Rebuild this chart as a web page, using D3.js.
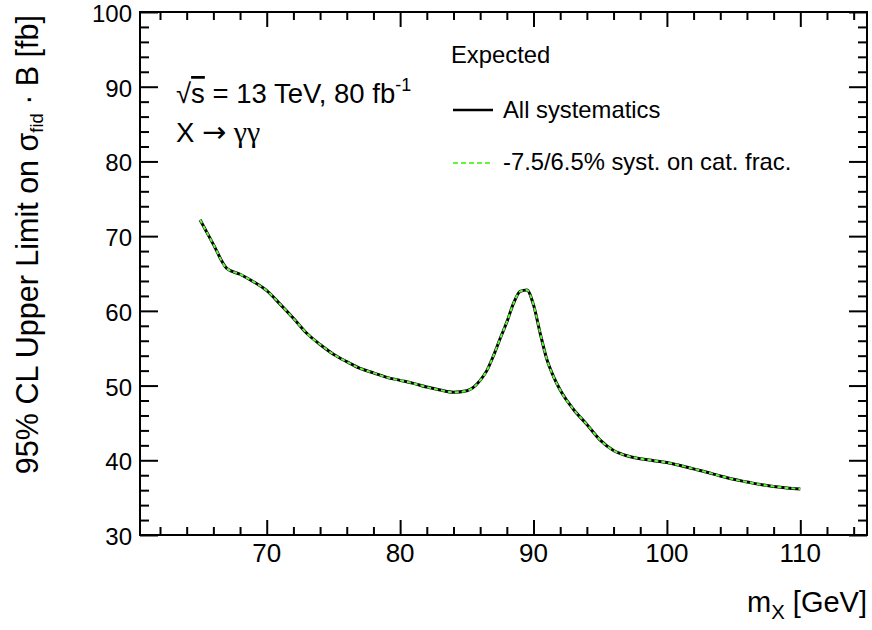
<!DOCTYPE html>
<html>
<head>
<meta charset="utf-8">
<script src="https://cdn.jsdelivr.net/npm/d3@7/dist/d3.min.js"></script>
<style>
  html, body { margin: 0; padding: 0; background: #fff; }
  svg { display: block; font-family: "Liberation Sans", Arial, Helvetica, sans-serif; }
</style>
</head>
<body>
<svg id="chart" width="872" height="630"></svg>
<script>
// ---- data ----
const massPoints = [65, 66, 67, 68, 69, 70, 71, 72, 73, 74, 75, 76, 77, 78, 79, 80, 81, 82, 83, 84, 85,
  86, 86.5, 87, 87.5, 88, 88.5, 89, 89.5, 90, 90.5, 91, 91.5, 92, 93, 94, 95, 96, 97, 98, 99, 100,
  101, 102, 103, 104, 105, 106, 107, 108, 109, 110];
const limitAllSyst = [72.2, 68.9, 65.7, 64.9, 63.9, 62.7, 60.9, 59.0, 57.0, 55.5, 54.2, 53.2, 52.3, 51.7, 51.1, 50.7, 50.3, 49.8, 49.4, 49.1, 49.3,
  50.7, 52.0, 54.0, 56.3, 58.5, 61.0, 62.6, 62.8, 60.8, 57.0, 53.5, 51.2, 49.4, 46.8, 44.8, 42.7, 41.3, 40.6, 40.2, 39.95, 39.7,
  39.3, 38.85, 38.4, 37.9, 37.45, 37.1, 36.75, 36.5, 36.3, 36.16];
const limitCatFrac = [72.2, 68.9, 65.7, 64.9, 63.9, 62.7, 60.9, 59.0, 57.0, 55.5, 54.2, 53.2, 52.3, 51.7, 51.1, 50.7, 50.3, 49.8, 49.4, 49.1, 49.3,
  50.7, 52.0, 54.0, 56.3, 58.5, 61.0, 62.6, 62.8, 60.8, 57.0, 53.5, 51.2, 49.4, 46.8, 44.8, 42.7, 41.3, 40.6, 40.2, 39.95, 39.7,
  39.3, 38.85, 38.4, 37.9, 37.45, 37.1, 36.75, 36.5, 36.3, 36.16];
const xTickLabels = [70, 80, 90, 100, 110];
const yTickLabels = [30, 40, 50, 60, 70, 80, 90, 100];
const legendHeader = "Expected";
const seriesNames = ["All systematics", "-7.5/6.5% syst. on cat. frac."];

// ---- layout ----
const svg = d3.select("#chart");
const L = 140, R = 867, T = 12, B = 535;
const x = d3.scaleLinear().domain([60.5, 115]).range([L, R]);
const y = d3.scaleLinear().domain([30, 100]).range([B, T]);
const labelFont = 26, yLabelFont = 24, xTitleFont = 29, yTitleFont = 30.5;

const xMinor = d3.range(62, 115, 2).filter(v => v % 10 !== 0);
const yMinor = d3.range(32, 100, 2).filter(v => v % 10 !== 0);

function styleAxis(g) {
  g.selectAll(".domain").remove();
  g.selectAll("line").attr("stroke", "#000").attr("stroke-width", 2);
}

// bottom axis (major + minor)
svg.append("g").attr("transform", `translate(0,${B})`)
  .call(d3.axisTop(x).tickValues(xTickLabels).tickSize(15).tickFormat(""))
  .call(styleAxis);
svg.append("g").attr("transform", `translate(0,${B})`)
  .call(d3.axisTop(x).tickValues(xMinor).tickSize(8).tickFormat(""))
  .call(styleAxis);
svg.append("g").selectAll("text").data(xTickLabels).join("text")
  .attr("x", d => x(d)).attr("y", B + 27).attr("text-anchor", "middle")
  .attr("font-size", labelFont).text(d => d);

// top axis ticks
svg.append("g").attr("transform", `translate(0,${T})`)
  .call(d3.axisBottom(x).tickValues(xTickLabels).tickSize(15).tickFormat(""))
  .call(styleAxis);
svg.append("g").attr("transform", `translate(0,${T})`)
  .call(d3.axisBottom(x).tickValues(xMinor).tickSize(8).tickFormat(""))
  .call(styleAxis);

// left axis
svg.append("g").attr("transform", `translate(${L},0)`)
  .call(d3.axisRight(y).tickValues(yTickLabels).tickSize(18).tickFormat(""))
  .call(styleAxis);
svg.append("g").attr("transform", `translate(${L},0)`)
  .call(d3.axisRight(y).tickValues(yMinor).tickSize(9).tickFormat(""))
  .call(styleAxis);
svg.append("g").selectAll("text").data(yTickLabels).join("text")
  .attr("x", L - 8).attr("y", d => y(d) + 10).attr("text-anchor", "end")
  .attr("font-size", yLabelFont).text(d => d);

// right axis ticks
svg.append("g").attr("transform", `translate(${R},0)`)
  .call(d3.axisLeft(y).tickValues(yTickLabels).tickSize(18).tickFormat(""))
  .call(styleAxis);
svg.append("g").attr("transform", `translate(${R},0)`)
  .call(d3.axisLeft(y).tickValues(yMinor).tickSize(9).tickFormat(""))
  .call(styleAxis);

// frame
svg.append("rect").attr("x", L).attr("y", T).attr("width", R - L).attr("height", B - T)
  .attr("fill", "none").attr("stroke", "#000").attr("stroke-width", 2);

// ---- curves ----
const line = d3.line().x(d => x(d[0])).y(d => y(d[1])).curve(d3.curveMonotoneX);
const greenCol = "#62f53c";
svg.append("path").datum(massPoints.map((m, i) => [m, limitAllSyst[i]]))
  .attr("d", line).attr("fill", "none").attr("stroke", "#000").attr("stroke-width", 3);
svg.append("path").datum(massPoints.map((m, i) => [m, limitCatFrac[i]]))
  .attr("d", line).attr("fill", "none").attr("stroke", greenCol).attr("stroke-width", 2)
  .attr("stroke-dasharray", "4,3");

// ---- axis titles ----
const xt = svg.append("text").attr("x", R).attr("y", 612).attr("text-anchor", "end")
  .attr("font-size", xTitleFont);
xt.append("tspan").text("m");
xt.append("tspan").attr("font-size", xTitleFont * 0.7).attr("dy", 7).text("X");
xt.append("tspan").attr("dy", -7).text(" [GeV]");

const yt = svg.append("text").attr("transform", "translate(38,15) rotate(-90)")
  .attr("text-anchor", "end").attr("font-size", yTitleFont);
yt.append("tspan").text("95% CL Upper Limit on σ");
yt.append("tspan").attr("font-size", yTitleFont * 0.6).attr("dy", 5).text("fid");
yt.append("tspan").attr("dy", -5).text(" · B [fb]");

// ---- annotation ----
const a1 = svg.append("text").attr("x", 176).attr("y", 103).attr("font-size", 27.5);
a1.append("tspan").text("√");
a1.append("tspan").style("text-decoration", "overline").text("s");
a1.append("tspan").text(" = 13 TeV, 80 fb");
a1.append("tspan").attr("font-size", 18).attr("dy", -12).text("-1");
const a2 = svg.append("text").attr("x", 176).attr("y", 142).attr("font-size", 27.5);
a2.append("tspan").text("X ");
a2.append("tspan").attr("font-family", "DejaVu Sans").attr("font-size", 29).text("→");
a2.append("tspan").attr("font-family", "Liberation Serif").attr("font-size", 30).text(" γγ");

// ---- legend ----
const legFont = 23.8;
svg.append("text").attr("x", 451).attr("y", 63).attr("font-size", legFont).text(legendHeader);
svg.append("line").attr("x1", 453).attr("x2", 493).attr("y1", 110).attr("y2", 110)
  .attr("stroke", "#000").attr("stroke-width", 2.5);
svg.append("text").attr("x", 503).attr("y", 118).attr("font-size", legFont).text(seriesNames[0]);
svg.append("line").attr("x1", 453).attr("x2", 493).attr("y1", 163).attr("y2", 163)
  .attr("stroke", greenCol).attr("stroke-width", 2).attr("stroke-dasharray", "5,3");
svg.append("text").attr("x", 503).attr("y", 170).attr("font-size", legFont).text(seriesNames[1]);
</script>
</body>
</html>
